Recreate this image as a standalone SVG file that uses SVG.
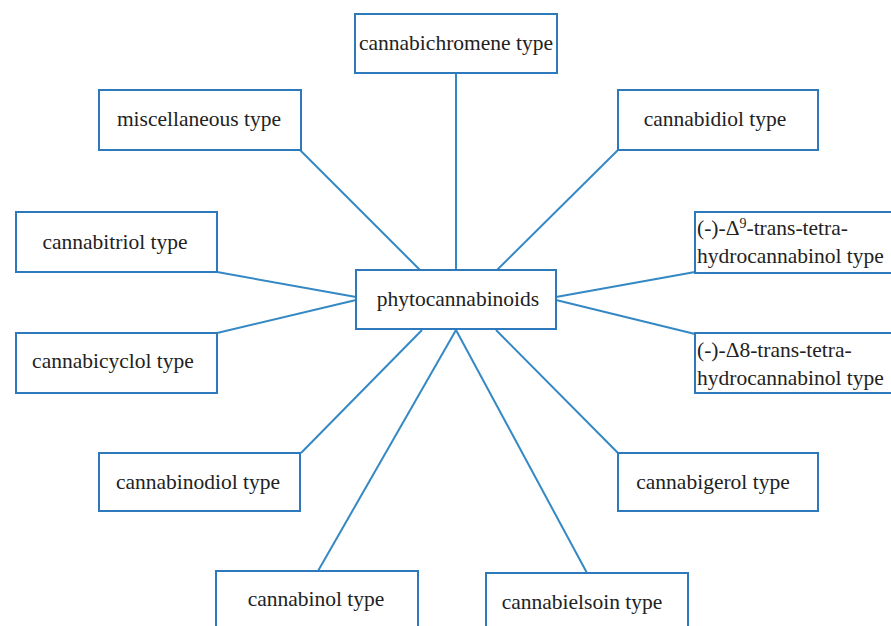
<svg xmlns="http://www.w3.org/2000/svg" width="891" height="626" viewBox="0 0 891 626">
<style>
.box{fill:#ffffff;stroke:#2e78bc;stroke-width:2}
.lnk{stroke:#3488c4;stroke-width:2;fill:none}
text{font-family:'Liberation Serif','DejaVu Serif',serif;font-size:21.5px;fill:#222222}
.c{text-anchor:middle}
</style>
<rect x="0" y="0" width="891" height="626" fill="#ffffff"/>
<g id="connectors">
<line class="lnk" x1="456" y1="73" x2="456" y2="270"/>
<line class="lnk" x1="300" y1="150" x2="420" y2="270"/>
<line class="lnk" x1="618" y1="150" x2="497" y2="270"/>
<line class="lnk" x1="217" y1="272" x2="356" y2="297"/>
<line class="lnk" x1="217" y1="333" x2="356" y2="300"/>
<line class="lnk" x1="695" y1="272" x2="556" y2="297"/>
<line class="lnk" x1="695" y1="334" x2="556" y2="300"/>
<line class="lnk" x1="301" y1="453" x2="422" y2="330"/>
<line class="lnk" x1="618" y1="453" x2="496" y2="330"/>
<line class="lnk" x1="318" y1="571" x2="456" y2="330"/>
<line class="lnk" x1="587" y1="573" x2="456" y2="330"/>
</g>
<g id="n-center"><rect class="box" x="356" y="270" width="200" height="59"/><text class="c" x="458" y="306">phytocannabinoids</text></g>
<g id="n-cbc"><rect class="box" x="355" y="14" width="202" height="59"/><text class="c" x="456" y="50">cannabichromene type</text></g>
<g id="n-misc"><rect class="box" x="99" y="90" width="202" height="60"/><text class="c" x="199" y="126">miscellaneous type</text></g>
<g id="n-cbd"><rect class="box" x="618" y="90" width="200" height="60"/><text class="c" x="715" y="126">cannabidiol type</text></g>
<g id="n-cbt"><rect class="box" x="16" y="212" width="201" height="60"/><text class="c" x="115" y="249">cannabitriol type</text></g>
<g id="n-cbl"><rect class="box" x="16" y="333" width="201" height="60"/><text class="c" x="113" y="368">cannabicyclol type</text></g>
<g id="n-d9"><rect class="box" x="695" y="212" width="210" height="61"/><text x="697" y="235">(-)-Δ<tspan font-size="14" dy="-7">9</tspan><tspan dy="7">-trans-tetra-</tspan></text><text x="697" y="263">hydrocannabinol type</text></g>
<g id="n-d8"><rect class="box" x="695" y="333" width="210" height="60"/><text x="697" y="357">(-)-Δ8-trans-tetra-</text><text x="697" y="385">hydrocannabinol type</text></g>
<g id="n-cbnd"><rect class="box" x="99" y="453" width="201" height="58"/><text class="c" x="198" y="489">cannabinodiol type</text></g>
<g id="n-cbg"><rect class="box" x="618" y="453" width="200" height="58"/><text class="c" x="713" y="489">cannabigerol type</text></g>
<g id="n-cbn"><rect class="box" x="216" y="571" width="202" height="62"/><text class="c" x="316" y="606">cannabinol type</text></g>
<g id="n-cbe"><rect class="box" x="486" y="573" width="202" height="62"/><text class="c" x="582" y="609">cannabielsoin type</text></g>
</svg>
